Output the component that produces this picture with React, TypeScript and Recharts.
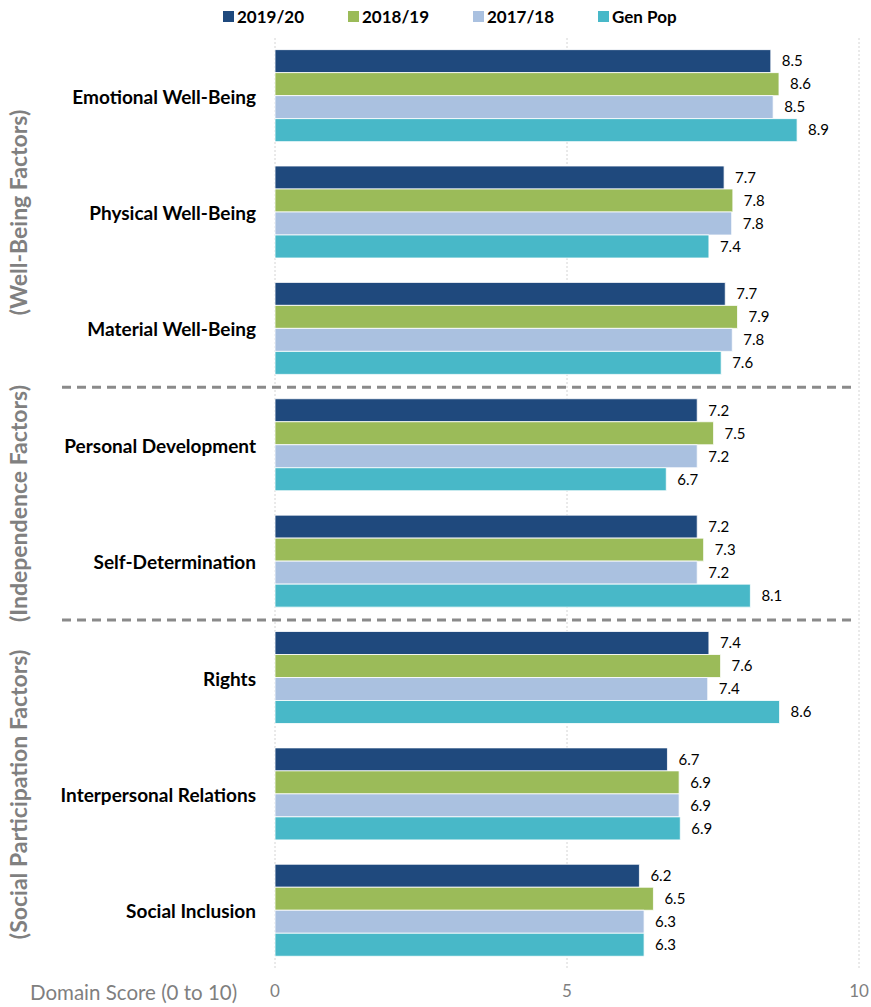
import React from 'react';
import { BarChart, Bar, XAxis, YAxis, CartesianGrid, LabelList } from 'recharts';

const CATEGORIES = [
  'Emotional Well-Being',
  'Physical Well-Being',
  'Material Well-Being',
  'Personal Development',
  'Self-Determination',
  'Rights',
  'Interpersonal Relations',
  'Social Inclusion',
];

const S2019_20 = [8.49, 7.69, 7.71, 7.23, 7.23, 7.43, 6.72, 6.24];
const S2018_19 = [8.63, 7.84, 7.92, 7.51, 7.34, 7.63, 6.92, 6.48];
const S2017_18 = [8.53, 7.82, 7.83, 7.23, 7.23, 7.41, 6.92, 6.32];
const GEN_POP = [8.94, 7.43, 7.64, 6.70, 8.14, 8.64, 6.94, 6.32];

const X_TICKS = [0, 5, 10];

const GROUPS = [
  { label: '(Well-Being Factors)', from: 0, to: 3 },
  { label: '(Independence Factors)', from: 3, to: 5 },
  { label: '(Social Participation Factors)', from: 5, to: 8 },
];

const SERIES = [
  { key: 's2019', name: '2019/20', color: '#1F497D', values: S2019_20 },
  { key: 's2018', name: '2018/19', color: '#9BBB59', values: S2018_19 },
  { key: 's2017', name: '2017/18', color: '#AAC1E0', values: S2017_18 },
  { key: 'gen', name: 'Gen Pop', color: '#48B8C8', values: GEN_POP },
];

const data = CATEGORIES.map((name, i) => {
  const row: any = { name };
  SERIES.forEach((s) => {
    row[s.key] = s.values[i];
  });
  return row;
});

const FONT = 'Lato, "Open Sans", sans-serif';
const W = 871;
const H = 1007;
const M_TOP = 38;
const X_AXIS_H = 38;
const PLOT_H = H - M_TOP - X_AXIS_H;
const BAND = PLOT_H / CATEGORIES.length;

const YTick = (props: any) => {
  const { x, y, payload } = props;
  return (
    <text x={x} y={y} textAnchor="end" dominantBaseline="central" fontFamily={FONT} fontWeight={700} fontSize={19} fill="#000">
      {payload.value}
    </text>
  );
};

const XTick = (props: any) => {
  const { x, y, payload } = props;
  return (
    <text x={x} y={y + 20} textAnchor="middle" fontFamily={FONT} fontSize={17} fill="#7f7f7f">
      {payload.value}
    </text>
  );
};

export default function App() {
  return (
    <div style={{ position: 'absolute', left: 0, top: 0, width: W, height: H, fontFamily: FONT, background: '#fff' }}>
      <div style={{ position: 'absolute', left: 223, top: 4, display: 'flex', height: 24, alignItems: 'center' }}>
        {SERIES.map((s) => (
          <div key={s.key} style={{ display: 'flex', alignItems: 'center', width: 125 }}>
            <div style={{ width: 11, height: 11, background: s.color, marginRight: 3 }} />
            <span style={{ fontWeight: 700, fontSize: 17, color: '#000' }}>{s.name}</span>
          </div>
        ))}
      </div>
      <div style={{ position: 'absolute', left: 30, top: 980, fontSize: 20.5, color: '#7f7f7f', whiteSpace: 'nowrap' }}>
        Domain Score (0 to 10)
      </div>
      <BarChart
        width={W}
        height={H}
        layout="vertical"
        data={data}
        margin={{ top: M_TOP, right: 12, bottom: 0, left: 0 }}
        barCategoryGap="10%"
        barGap={0}
      >
        <CartesianGrid horizontal={false} stroke="#d4d4d4" strokeDasharray="2 2" />
        <XAxis type="number" domain={[0, 10]} ticks={X_TICKS} axisLine={false} tickLine={false} height={X_AXIS_H} tick={<XTick />} interval={0} />
        <YAxis type="category" dataKey="name" width={275} axisLine={false} tickLine={false} tickMargin={13} tick={<YTick />} interval={0} />
        {SERIES.map((s) => (
          <Bar key={s.key} dataKey={s.key} name={s.name} fill={s.color} stroke="#fff" strokeWidth={0.8} isAnimationActive={false}>
            <LabelList
              dataKey={s.key}
              position="right"
              offset={11}
              formatter={(v: any) => Number(v).toFixed(1)}
              style={{ fontFamily: FONT, fontSize: 15, fill: '#000' }}
            />
          </Bar>
        ))}
      </BarChart>
      <svg width={W} height={H} style={{ position: 'absolute', left: 0, top: 0, pointerEvents: 'none' }}>
        {GROUPS.slice(1).map((g) => {
          const y = M_TOP + g.from * BAND;
          return <line key={'sep' + g.label} x1={62} x2={851} y1={y} y2={y} stroke="#8a8a8a" strokeWidth={3} strokeDasharray="9 6" />;
        })}
        {GROUPS.map((g) => {
          const cy = M_TOP + ((g.from + g.to) / 2) * BAND;
          return (
            <text
              key={g.label}
              x={18}
              y={cy}
              transform={`rotate(-90 18 ${cy})`}
              textAnchor="middle"
              dominantBaseline="central"
              fontFamily={FONT}
              fontWeight={700}
              fontSize={23}
              fill="#808080"
            >
              {g.label}
            </text>
          );
        })}
      </svg>
    </div>
  );
}
